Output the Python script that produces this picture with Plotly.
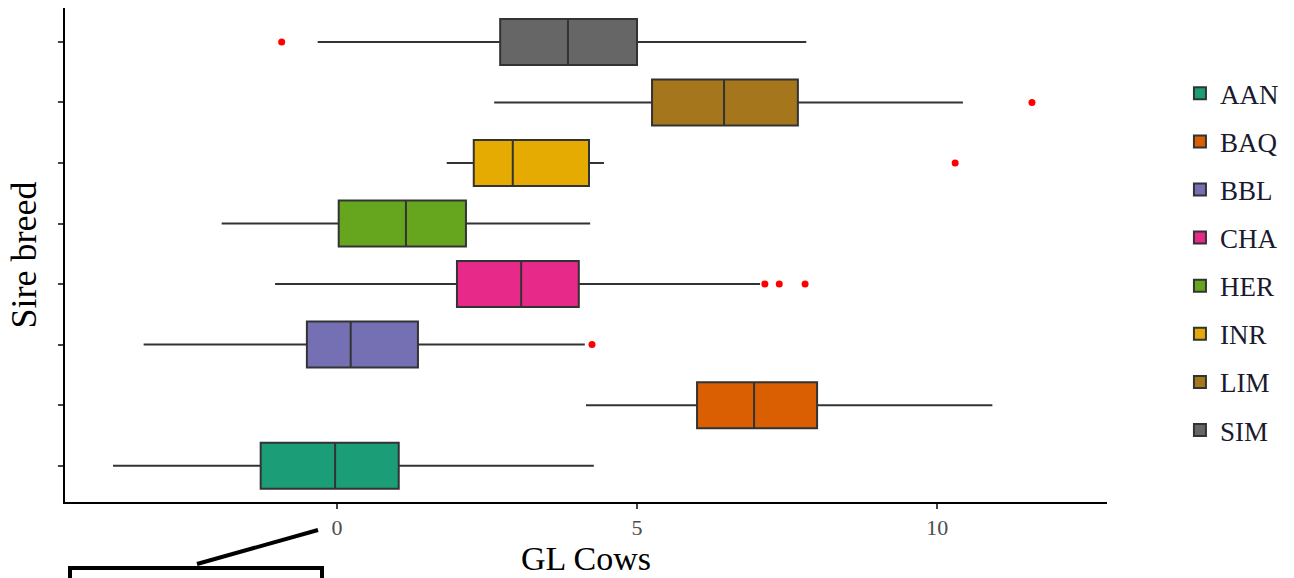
import plotly.graph_objects as go

breeds = ["AAN", "BAQ", "BBL", "CHA", "HER", "INR", "LIM", "SIM"]
colors = ["#1B9E77", "#D95F02", "#7570B3", "#E7298A", "#66A61E", "#E6AB02", "#A6761D", "#666666"]
lower_whisker = [-3.73, 4.15, -3.22, -1.03, -1.92, 1.83, 2.62, -0.32]
q1 = [-1.27, 6.00, -0.50, 2.00, 0.03, 2.28, 5.25, 2.72]
median = [-0.03, 6.95, 0.23, 3.07, 1.15, 2.93, 6.45, 3.85]
q3 = [1.03, 8.00, 1.35, 4.03, 2.15, 4.20, 7.68, 5.00]
upper_whisker = [4.28, 10.92, 4.13, 7.05, 4.22, 4.45, 10.43, 7.82]
outlier_breed = ["BBL", "CHA", "CHA", "CHA", "INR", "LIM", "SIM"]
outlier_value = [4.25, 7.13, 7.37, 7.80, 10.30, 11.58, -0.92]
x_ticks = [0, 5, 10]

fig = go.Figure()
for i, b in enumerate(breeds):
    fig.add_trace(go.Box(
        name=b, y=[b], orientation="h",
        q1=[q1[i]], median=[median[i]], q3=[q3[i]],
        lowerfence=[lower_whisker[i]], upperfence=[upper_whisker[i]],
        fillcolor=colors[i], line=dict(color="#333333", width=2),
        width=0.76, whiskerwidth=0, boxpoints=False, legendgroup=b,
    ))

fig.add_trace(go.Scatter(
    x=outlier_value, y=outlier_breed, mode="markers",
    marker=dict(color="red", size=7), showlegend=False, hoverinfo="x",
))

fig.update_layout(
    width=1294, height=578,
    margin=dict(l=65, r=187, t=8, b=76),
    paper_bgcolor="white", plot_bgcolor="white",
    font=dict(family="Liberation Serif", color="black"),
    showlegend=True,
    legend=dict(x=1.07, y=0.876, xanchor="left", yanchor="top",
                font=dict(size=27, color="#1a1a2e"), traceorder="grouped",
                tracegroupgap=10),
    xaxis=dict(range=[-4.53, 12.83], tickvals=x_ticks, showgrid=False, zeroline=False,
               showline=True, linecolor="black", linewidth=2,
               ticks="outside", ticklen=5, tickwidth=2, tickcolor="#444",
               tickfont=dict(size=22, color="#4d4d4d"),
               title=dict(text="GL Cows", font=dict(size=34), standoff=6)),
    yaxis=dict(type="category", categoryorder="array", categoryarray=breeds,
               range=[-0.6, 7.56], showticklabels=False, showgrid=False, zeroline=False,
               showline=True, linecolor="black", linewidth=2,
               ticks="outside", ticklen=5, tickwidth=2, tickcolor="#444",
               title=dict(text="Sire breed", font=dict(size=36), standoff=10)),
    shapes=[
        dict(type="rect", xref="paper", yref="paper",
             x0=(70 - 65) / 1042, x1=(322 - 65) / 1042,
             y0=(502 - 640) / 494, y1=(502 - 568) / 494,
             line=dict(color="black", width=4), fillcolor="white"),
        dict(type="line", xref="paper", yref="paper",
             x0=(197 - 65) / 1042, y0=(502 - 564) / 494,
             x1=(318 - 65) / 1042, y1=(502 - 530) / 494,
             line=dict(color="black", width=4)),
    ],
)

html = fig.to_html(full_html=True, config={"displayModeBar": False})
html = html.replace("<body>", '<body style="margin:0;overflow:hidden">', 1)
with open("out.html", "w", encoding="utf-8") as f:
    f.write(html)
